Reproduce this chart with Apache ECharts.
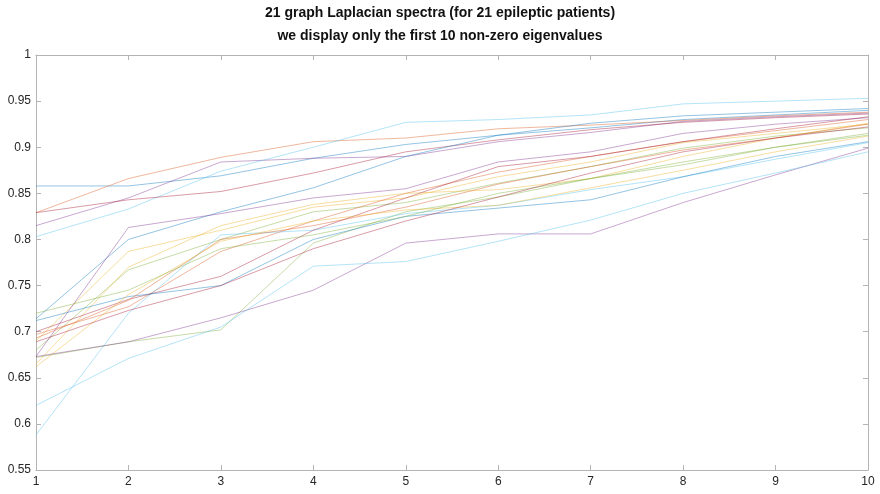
<!DOCTYPE html>
<html>
<head>
<meta charset="utf-8">
<script src="https://cdn.jsdelivr.net/npm/echarts@6/dist/echarts.min.js"></script>
<style>
  html, body { margin: 0; padding: 0; background: #fff; }
  #chart { width: 880px; height: 494px; }
</style>
</head>
<body>
<div id="chart"></div>
<script>
// Eigenvalue index (first 10 non-zero eigenvalues)
const eigenIndex = [1, 2, 3, 4, 5, 6, 7, 8, 9, 10];

// One spectrum per patient (21 patients)
const patient01 = [0.858, 0.858, 0.869, 0.888, 0.903, 0.913, 0.921, 0.930, 0.935, 0.940];
const patient02 = [0.829, 0.866, 0.889, 0.906, 0.910, 0.920, 0.924, 0.929, 0.934, 0.938];
const patient03 = [0.690, 0.787, 0.810, 0.835, 0.845, 0.868, 0.884, 0.905, 0.915, 0.925];
const patient04 = [0.815, 0.845, 0.884, 0.888, 0.890, 0.906, 0.916, 0.928, 0.933, 0.937];
const patient05 = [0.680, 0.767, 0.800, 0.830, 0.840, 0.861, 0.879, 0.899, 0.912, 0.921];
const patient06 = [0.803, 0.833, 0.874, 0.900, 0.927, 0.930, 0.935, 0.947, 0.950, 0.953];
const patient07 = [0.829, 0.843, 0.852, 0.872, 0.895, 0.908, 0.919, 0.927, 0.932, 0.936];
const patient08 = [0.714, 0.800, 0.830, 0.856, 0.890, 0.913, 0.926, 0.934, 0.938, 0.942];
const patient09 = [0.697, 0.727, 0.787, 0.820, 0.850, 0.873, 0.890, 0.906, 0.918, 0.930];
const patient10 = [0.665, 0.770, 0.815, 0.838, 0.850, 0.854, 0.866, 0.890, 0.910, 0.926];
const patient11 = [0.673, 0.813, 0.828, 0.845, 0.855, 0.884, 0.895, 0.915, 0.925, 0.932];
const patient12 = [0.672, 0.689, 0.702, 0.796, 0.830, 0.846, 0.866, 0.881, 0.900, 0.915];
const patient13 = [0.588, 0.720, 0.805, 0.810, 0.828, 0.837, 0.854, 0.868, 0.887, 0.905];
const patient14 = [0.700, 0.735, 0.760, 0.810, 0.845, 0.879, 0.890, 0.906, 0.920, 0.933];
const patient15 = [0.712, 0.738, 0.750, 0.800, 0.825, 0.834, 0.843, 0.868, 0.890, 0.906];
const patient16 = [0.693, 0.734, 0.800, 0.815, 0.835, 0.860, 0.879, 0.897, 0.910, 0.925];
const patient17 = [0.662, 0.740, 0.798, 0.820, 0.832, 0.837, 0.856, 0.875, 0.895, 0.912];
const patient18 = [0.673, 0.689, 0.715, 0.745, 0.796, 0.806, 0.806, 0.840, 0.870, 0.899];
const patient19 = [0.720, 0.745, 0.790, 0.805, 0.825, 0.850, 0.866, 0.884, 0.900, 0.913];
const patient20 = [0.620, 0.671, 0.705, 0.771, 0.776, 0.798, 0.821, 0.850, 0.872, 0.895];
const patient21 = [0.689, 0.723, 0.750, 0.790, 0.820, 0.846, 0.872, 0.895, 0.910, 0.922];

const spectra = [
  patient01, patient02, patient03, patient04, patient05, patient06, patient07,
  patient08, patient09, patient10, patient11, patient12, patient13, patient14,
  patient15, patient16, patient17, patient18, patient19, patient20, patient21
];

// Axis ticks
const xTicks = [1, 2, 3, 4, 5, 6, 7, 8, 9, 10];
const yMin = 0.55, yMax = 1, yStep = 0.05;

const titleLines = [
  '21 graph Laplacian spectra (for 21 epileptic patients)',
  'we display only the first 10 non-zero eigenvalues'
];

const palette = ['#0072BD', '#D95319', '#EDB120', '#7E2F8E', '#77AC30', '#4DBEEE', '#A2142F'];
const axisGrey = '#b4b4b4';
const textColor = '#262626';
const fontFamily = '"Liberation Sans", Arial, Helvetica, sans-serif';

const fmtY = v => String(parseFloat(v.toFixed(2)));

const chart = echarts.init(document.getElementById('chart'), null, { renderer: 'canvas' });

const series = spectra.map((vals, i) => ({
  type: 'line',
  name: 'patient ' + (i + 1),
  data: eigenIndex.map((x, k) => [x, vals[k]]),
  showSymbol: false,
  symbol: 'none',
  lineStyle: { width: 1, opacity: 0.42 },
  emphasis: { disabled: true },
  silent: true,
  z: 2
}));

const commonAxisLine = { show: true, lineStyle: { color: axisGrey, width: 1 } };
const commonTick = { show: true, inside: true, length: 5, lineStyle: { color: axisGrey } };

chart.setOption({
  animation: false,
  backgroundColor: '#ffffff',
  color: palette,
  title: {
    text: titleLines.join('\n'),
    left: 'center',
    top: 2,
    padding: 0,
    textStyle: {
      fontFamily: fontFamily,
      fontSize: 14,
      fontWeight: 'bold',
      color: '#111',
      lineHeight: 23
    }
  },
  grid: { left: 36, right: 12, top: 55, bottom: 24, containLabel: false },
  xAxis: [
    {
      type: 'value', min: xTicks[0], max: xTicks[xTicks.length - 1], interval: 1,
      position: 'bottom',
      axisLine: commonAxisLine, axisTick: commonTick,
      splitLine: { show: false },
      axisLabel: { color: textColor, fontFamily: fontFamily, fontSize: 12, margin: 6 }
    },
    {
      type: 'value', min: xTicks[0], max: xTicks[xTicks.length - 1], interval: 1,
      position: 'top',
      axisLine: commonAxisLine, axisTick: commonTick,
      splitLine: { show: false }, axisLabel: { show: false }
    }
  ],
  yAxis: [
    {
      type: 'value', min: yMin, max: yMax, interval: yStep,
      position: 'left',
      axisLine: commonAxisLine, axisTick: commonTick,
      splitLine: { show: false },
      axisLabel: { color: textColor, fontFamily: fontFamily, fontSize: 12, margin: 5, formatter: fmtY }
    },
    {
      type: 'value', min: yMin, max: yMax, interval: yStep,
      position: 'right',
      axisLine: commonAxisLine, axisTick: commonTick,
      splitLine: { show: false }, axisLabel: { show: false }
    }
  ],
  series: series
});
</script>
</body>
</html>
